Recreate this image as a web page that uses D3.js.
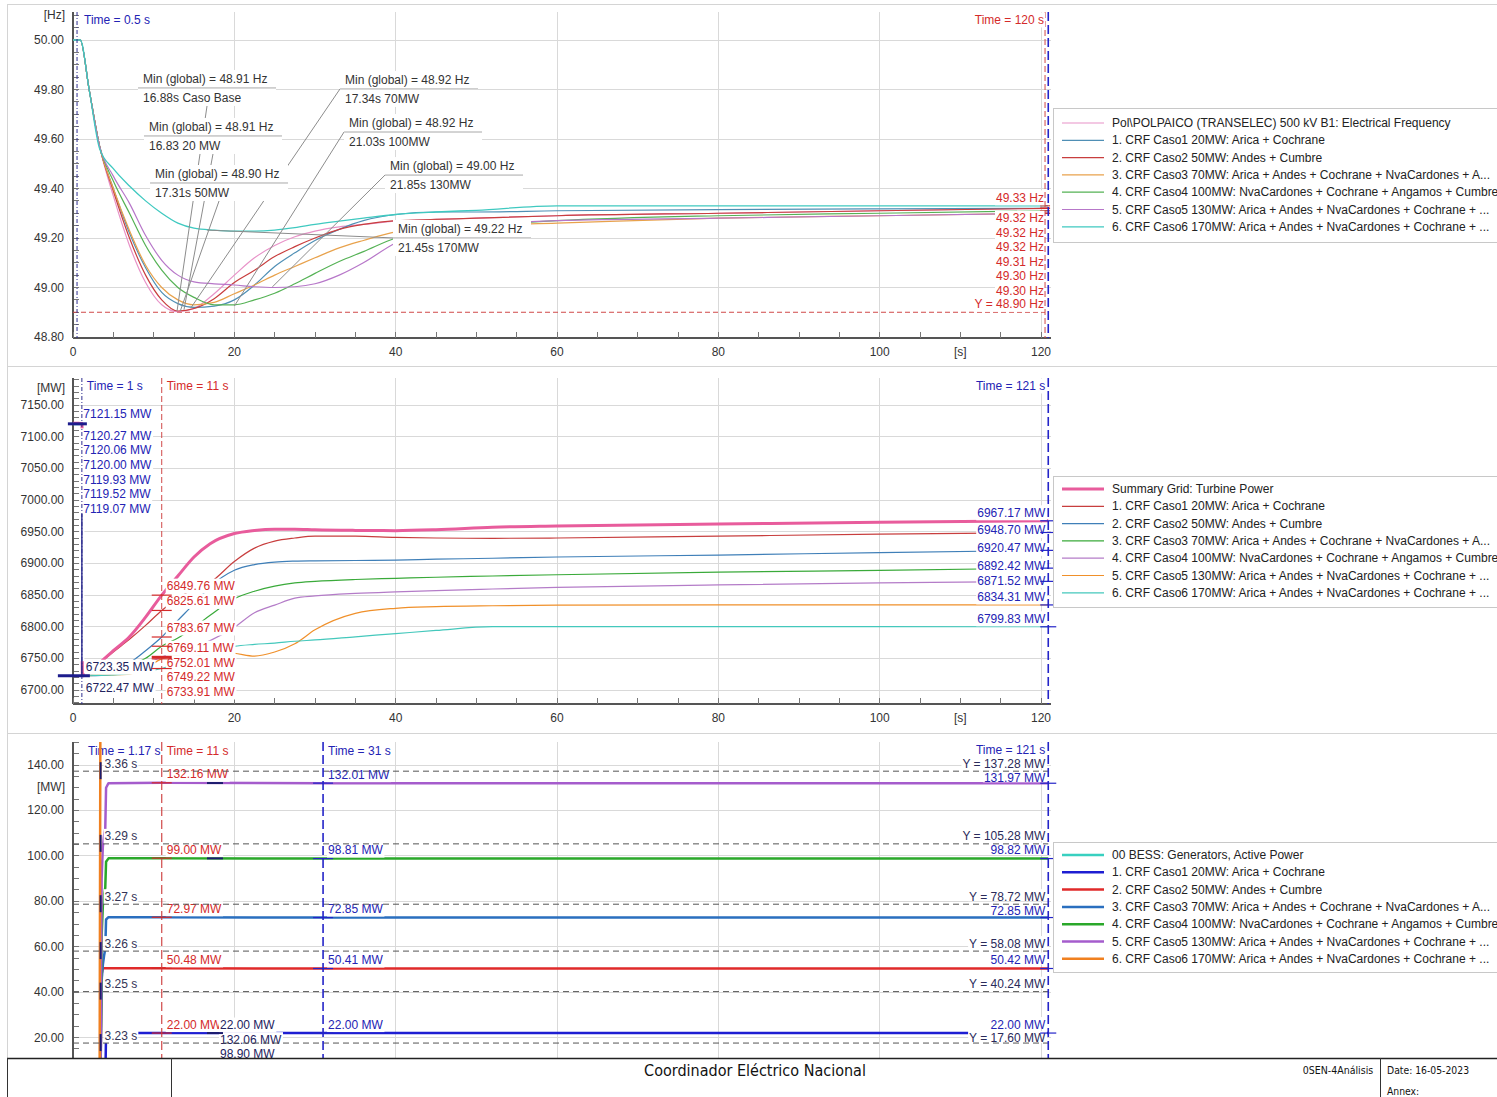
<!DOCTYPE html>
<html>
<head>
<meta charset="utf-8">
<script src="https://cdn.jsdelivr.net/npm/d3@7/dist/d3.min.js"></script>
<style>
html,body{margin:0;padding:0;background:#fff;}
svg{display:block;}
</style>
</head>
<body>
<svg id="chart" width="1497" height="1097"></svg>
<script>
// ================= DATA =================
// Panel 1 : electrical frequency [Hz]
const freqTime   = [0,0.9,2,3.3,5,7,9,11,13,15,17.5,20,22.5,25,27.5,30,33,36,40,45,50,60,80,100,120.9];
const freqPol    = [50,50,49.80,49.57,49.37,49.17,49.02,48.93,48.902,48.915,48.975,49.05,49.12,49.17,49.205,49.228,49.245,49.255,49.268,49.275,49.28,49.29,49.30,49.31,49.32];
const freqCaso1  = [50,50,49.80,49.57,49.40,49.22,49.08,48.98,48.935,48.92,48.925,48.95,49.01,49.085,49.14,49.19,49.235,49.27,49.295,49.305,49.305,49.31,49.315,49.318,49.32];
const freqCaso2  = [50,50,49.80,49.57,49.39,49.20,49.05,48.95,48.905,48.915,48.955,49.02,49.07,49.125,49.165,49.20,49.235,49.255,49.27,49.275,49.28,49.29,49.30,49.31,49.32];
const freqCaso3  = [50,50,49.80,49.57,49.40,49.23,49.09,49.00,48.95,48.93,48.94,48.975,49.01,49.05,49.085,49.12,49.16,49.19,49.225,49.24,49.25,49.26,49.28,49.29,49.30];
const freqCaso4  = [50,50,49.80,49.57,49.43,49.30,49.17,49.07,49.00,48.96,48.93,48.93,48.95,48.977,49.015,49.057,49.105,49.145,49.20,49.235,49.25,49.27,49.29,49.30,49.31];
const freqCaso5  = [50,50,49.80,49.57,49.45,49.34,49.21,49.11,49.05,49.023,49.015,49.01,49.003,49.00,49.003,49.015,49.05,49.10,49.18,49.23,49.25,49.27,49.28,49.29,49.30];
const freqCaso6  = [50,50,49.80,49.56,49.48,49.41,49.35,49.30,49.26,49.24,49.232,49.228,49.228,49.232,49.242,49.255,49.268,49.28,49.295,49.305,49.312,49.33,49.33,49.33,49.33];
const freqEndLabels = [49.33,49.32,49.32,49.32,49.31,49.30,49.30];
const freqYCursor = 48.90;
const freqTicks = [48.80,49.00,49.20,49.40,49.60,49.80,50.00];
const minText1 = ["Min (global) = 48.91 Hz","Min (global) = 48.91 Hz","Min (global) = 48.90 Hz","Min (global) = 48.92 Hz","Min (global) = 48.92 Hz","Min (global) = 49.00 Hz","Min (global) = 49.22 Hz"];
const minText2 = ["16.88s Caso Base","16.83 20 MW","17.31s 50MW","17.34s 70MW","21.03s 100MW","21.85s 130MW","21.45s 170MW"];
const minPointT = [12.9,13.76,13.3,14.6,20.0,24.7,16.6];
const minPointF = [48.905,48.91,48.905,48.917,48.925,49.002,49.232];

// Panel 2 : Summary grid turbine power [MW]
const powTime     = [0,1.12,1.15,2,3.5,5,7,9,11,13,15,17,20,22.5,25,27.5,30,35,40,45,52,60,80,100,120.9];
const powSummary  = [7121.15,7121.15,6722.5,6727,6745,6762,6784,6815,6849.76,6880,6910,6931,6947,6952,6954,6954,6953,6952,6951.6,6953,6957,6959,6962,6965,6967.17];
const powCaso1    = [7120.27,7120.27,6722.5,6726,6744,6760,6780,6802,6825.61,6845,6860,6870,6903,6924,6935,6940,6943,6943,6941,6940,6939.5,6940,6943,6946,6948.70];
const powCaso2    = [7120.06,7120.06,6723.35,6724,6727,6733,6743,6762,6783.67,6810,6836,6863,6889,6898,6902,6903.5,6904,6904.5,6905,6906.5,6908,6910,6913,6917,6920.47];
const powCaso3    = [7120.00,7120.00,6722.5,6723,6725,6730,6738,6750,6769.11,6782,6799,6818,6844,6856,6864,6869,6871.5,6874.5,6876.3,6878,6880,6882,6886,6889,6892.42];
const powCaso4    = [7119.93,7119.93,6722.5,6722.5,6723,6725,6733,6742,6752.01,6760,6768,6778,6799,6822,6834,6845,6848.5,6852.5,6855,6857,6859.5,6862,6866,6869,6871.52];
const powCaso5    = [7119.52,7119.52,6722.5,6722.8,6723.5,6724,6725,6735,6749.22,6755,6758,6760,6758,6753.6,6760,6773,6795,6821,6829,6831.5,6833,6834,6834.3,6834.3,6834.31];
const powCaso6    = [7119.07,7119.07,6722.47,6722.5,6723,6724,6726,6729,6733.91,6742,6752,6760,6769,6772,6774,6777,6779,6784,6789,6794,6800,6800,6800,6800,6799.83];
const powAtT1Top  = [7121.15,7120.27,7120.06,7120.00,7119.93,7119.52,7119.07];
const powAtT1Bot  = [6723.35,6722.47];
const powAtT11    = [6849.76,6825.61,6783.67,6769.11,6752.01,6749.22,6733.91];
const powAtEnd    = [6967.17,6948.70,6920.47,6892.42,6871.52,6834.31,6799.83];
const powTicks    = [6700,6750,6800,6850,6900,6950,7000,7050,7100,7150];

// Panel 3 : BESS active power [MW]
const bessTime   = [0,3.3,3.4,3.55,3.7,3.85,4.0,4.1,4.4,11,31,120.9];
const bessBase   = [0,0,0,0,0,0,0,0,0,0,0,0];
const bessCaso1  = [0,0,0,0,0,0,0,22,22,22.00,22.00,22.00];
const bessCaso2  = [0,0,0,48,50.5,50.5,50.5,50.5,50.5,50.48,50.41,50.42];
const bessCaso3  = [0,0,0,45,52,56,59,72,73,72.97,72.85,72.85];
const bessCaso4  = [0,0,0,65,78,83,86,97.4,98.9,99.00,98.81,98.82];
const bessCaso5  = [0,0,0,90,104,109,112,130,132,132.16,132.01,131.97];
const bessCaso6  = [0,0,170,170,170,170,170,170,170,170,170,170];
const bessAtT11  = [132.16,99.00,72.97,50.48,22.00];
const bessAtT31  = [132.01,98.81,72.85,50.41,22.00];
const bessAtEnd  = [131.97,98.82,72.85,50.42,22.00];
const bessAtT17  = [22.00,132.06,98.90];
const bessYCursors = [137.28,105.28,78.72,58.08,40.24,17.60];
const bessCrossTimes = [3.36,3.29,3.27,3.26,3.25,3.23];
const bessTicks  = [20,40,60,80,100,120,140];

const timeTicks = [0,20,40,60,80,100,120];

const caseNames = ["1. CRF Caso1 20MW: Arica + Cochrane","2. CRF Caso2 50MW: Andes + Cumbre","3. CRF Caso3 70MW: Arica + Andes + Cochrane + NvaCardones + A...","4. CRF Caso4 100MW: NvaCardones + Cochrane + Angamos + Cumbre","5. CRF Caso5 130MW: Arica + Andes + NvaCardones + Cochrane + ...","6. CRF Caso6 170MW: Arica + Andes + NvaCardones + Cochrane + ..."];
const freqLegend = ["Pol\\POLPAICO (TRANSELEC) 500 kV B1: Electrical Frequency"].concat(caseNames);
const powLegend  = ["Summary Grid: Turbine Power"].concat(caseNames);
const bessLegend = ["00 BESS: Generators, Active Power"].concat(caseNames);

// ================= STYLE =================
const freqColors = ["#e892c8","#4f8fb5","#c83e3e","#e8a24c","#55b255","#b777c9","#3fc9c0"];
const powColors  = ["#e85c9c","#c83e3e","#3f7fb8","#3aaa3a","#b47cc8","#f0902a","#44c8bc"];
const bessColors = ["#38d0c0","#1e1ed2","#e02a2a","#2a6fbf","#2aa82a","#a55ccc","#f08020"];
const RED = "#d42a2a", BLUE = "#2323b4", NAVY = "#22225e", DARK = "#333";
const F = '"Liberation Sans", Arial, Helvetica, sans-serif';

// ================= DRAW =================
const svg = d3.select("#chart");
const x = d3.scaleLinear().domain([0,120]).range([73,1041]);
const XL = x(0), XR = x(121.3);

function txt(g, px, py, s, o = {}) {
  const t = g.append("text").attr("x", px).attr("y", py).text(s)
    .attr("font-family", o.family || F).attr("font-size", o.size || 12)
    .attr("fill", o.color || DARK).attr("text-anchor", o.anchor || "start")
    .attr("dominant-baseline", "central");
  if (o.bg) {
    const b = t.node().getBBox();
    const padL = o.padL == null ? 1 : o.padL;
    const trim = o.trim || 0;
    g.insert("rect", () => t.node()).attr("x", b.x - padL).attr("y", b.y - 0.5)
      .attr("width", b.width + 1 + padL).attr("height", b.height + 1 - trim).attr("fill", "#fff");
  }
  return t;
}
function stack(vals, y, first, gap, push) {
  let prev = -1e9;
  return vals.map(v => { const yl = y(v); let d = yl + first; if (d < prev + gap) d = Math.max(prev + gap, yl + push); prev = d; return d; });
}
function hline(g, x1, x2, yy, color, w, dash) {
  const l = g.append("line").attr("x1", x1).attr("x2", x2).attr("y1", yy).attr("y2", yy).attr("stroke", color).attr("stroke-width", w || 1);
  if (dash) l.attr("stroke-dasharray", dash);
  return l;
}
function vline(g, xx, y1, y2, color, w, dash) {
  const l = g.append("line").attr("x1", xx).attr("x2", xx).attr("y1", y1).attr("y2", y2).attr("stroke", color).attr("stroke-width", w || 1);
  if (dash) l.attr("stroke-dasharray", dash);
  return l;
}

// outer frame
const frameG = svg.append("g");
frameG.append("rect").attr("x", 7.5).attr("y", 4.5).attr("width", 1500).attr("height", 1100).attr("fill", "none").attr("stroke", "#d4d4d4");
hline(frameG, 7, 1497, 366.5, "#d4d4d4");
hline(frameG, 7, 1497, 733.5, "#d4d4d4");

const defs = svg.append("defs");
const panels = {
  freq: { y: d3.scaleLinear().domain([48.8, 50]).range([337, 40]), top: 12, bottom: 338, minor: d3.range(0, 27).map(i => 48.8 + i * 0.05), ticks: freqTicks, unit: "[Hz]", unitAt: 15, xAxis: true, id: "c1" },
  pow:  { y: d3.scaleLinear().domain([6700, 7150]).range([690, 405]), top: 378, bottom: 704, minor: d3.range(0, 52).map(i => 6680 + i * 10), ticks: powTicks, unit: "[MW]", unitAt: 388, xAxis: true, id: "c2" },
  bess: { y: d3.scaleLinear().domain([20, 140]).range([1037.6, 765]), top: 742, bottom: 1058, minor: d3.range(0, 30).map(i => 5 + i * 5), ticks: bessTicks, unit: "[MW]", unitAt: null, xAxis: false, id: "c3" }
};
panels.bess.unitAt = panels.bess.y(130.2);

Object.values(panels).forEach(p => {
  defs.append("clipPath").attr("id", p.id).append("rect").attr("x", XL).attr("y", p.top).attr("width", XR - XL).attr("height", p.bottom - p.top);
  const g = svg.append("g").attr("shape-rendering", "crispEdges");
  p.ticks.forEach(v => hline(g, XL, XR, p.y(v), "#d9d9d9"));
  timeTicks.filter(t => t > 0).forEach(t => vline(g, x(t), p.top, p.bottom, "#d9d9d9"));
  p.minor.forEach(v => { const yy = p.y(v); if (yy >= p.top && yy <= p.bottom) hline(g, XL, XL + 6, yy, "#777"); });
  vline(g, XL, p.top, p.bottom, "#555", 1.3);
  const tg = svg.append("g");
  p.ticks.forEach(v => txt(tg, 64, p.y(v), v.toFixed(2), { anchor: "end" }));
  txt(tg, 65, p.unitAt, p.unit, { anchor: "end" });
  if (p.xAxis) {
    hline(g, XL, XR, p.bottom, "#555", 1.3);
    d3.range(0, 25).map(i => i * 5).forEach(t => vline(g, x(t), p.bottom - 6, p.bottom, "#777"));
    timeTicks.forEach(t => txt(tg, x(t), p.bottom + 14, String(t), { anchor: "middle" }));
    txt(tg, x(110), p.bottom + 14, "[s]", { anchor: "middle" });
  }
});

function drawCurves(p, times, series, colors, widths, curve) {
  const g = svg.append("g").attr("clip-path", `url(#${p.id})`);
  const line = d3.line().x(d => x(d[0])).y(d => p.y(d[1])).curve(curve);
  series.forEach((s, i) => g.append("path").attr("d", line(times.map((t, j) => [t, s[j]])))
    .attr("fill", "none").attr("stroke", colors[i]).attr("stroke-width", widths[i]).attr("stroke-linejoin", "round"));
}
function legend(y0, h, first, names, colors, widths) {
  const g = svg.append("g");
  g.append("rect").attr("x", 1053.5).attr("y", y0 + 0.5).attr("width", 450).attr("height", h).attr("fill", "#fff").attr("stroke", "#c8c8c8");
  names.forEach((n, i) => {
    const yy = y0 + first + i * 17.3;
    hline(g, 1062, 1104, yy, colors[i], widths[i]);
    txt(g, 1112, yy, n, { color: "#222" });
  });
}

// ---------- Panel 1 ----------
{
  const p = panels.freq, y = p.y;
  const g = svg.append("g");
  hline(g, XL, x(120.5), y(freqYCursor), "#d04848", 1, "5,3");
  drawCurves(p, freqTime, [freqPol, freqCaso1, freqCaso2, freqCaso3, freqCaso4, freqCaso5, freqCaso6], freqColors, [1.2,1.2,1.2,1.2,1.2,1.2,1.3], d3.curveMonotoneX);
  // min annotations (box layout in data units: left time / top frequency, leader anchor)
  const boxAt = [[8.06,49.879,"b"],[8.80,49.685,"b"],[9.55,49.495,"b"],[33.1,49.875,"l"],[33.6,49.701,"l"],[38.68,49.527,"l"],[39.67,49.273,"l"]];
  const ag = svg.append("g");
  boxAt.forEach((b, i) => {
    const bx = x(b[0]), by = y(b[1]);
    const sx = b[2] === "b" ? bx + 69 : bx, sy = b[2] === "b" ? by + 36 : by + 18;
    ag.append("line").attr("x1", sx).attr("y1", sy).attr("x2", x(minPointT[i])).attr("y2", y(minPointF[i])).attr("stroke", "#8c8c8c").attr("stroke-width", 1);
  });
  boxAt.forEach((b, i) => {
    const bx = x(b[0]), by = y(b[1]);
    ag.append("rect").attr("x", bx).attr("y", by).attr("width", 138).attr("height", 36).attr("fill", "#fff");
    hline(ag, bx, bx + 138, by + 18, "#a8a8a8");
    txt(ag, bx + 5, by + 9, minText1[i]);
    txt(ag, bx + 5, by + 28, minText2[i]);
  });
  // cursors
  const cg = svg.append("g");
  freqEndLabels.forEach(v => hline(cg, x(120.5) - 5, x(120.5) + 5, y(v), RED, 1));
  const ly = stack(freqEndLabels, y, -8, 14.5, 10);
  freqEndLabels.forEach((v, i) => txt(cg, x(120.5) - 1, ly[i], v.toFixed(2) + " Hz", { color: RED, anchor: "end", bg: true }));
  txt(cg, x(120.5) - 1, y(freqYCursor) - 8, "Y = " + freqYCursor.toFixed(2) + " Hz", { color: RED, anchor: "end", bg: true });
  vline(cg, x(0.5), p.top, p.bottom, "#303090", 1, "4,2,1,2");
  vline(cg, x(120.5), p.top, p.bottom, "#d04848", 1, "6,3");
  vline(cg, x(120.9), p.top, p.bottom, "#2424c8", 1.6, "9,4");
  txt(cg, x(0.5) + 7, p.top + 8, "Time = 0.5 s", { color: BLUE, bg: true });
  txt(cg, x(120.5) - 1, p.top + 8, "Time = 120 s", { color: RED, anchor: "end", bg: true });
  legend(108, 134, 15, freqLegend, freqColors, [1.2,1.2,1.2,1.2,1.2,1.2,1.2]);
}

// ---------- Panel 2 ----------
{
  const p = panels.pow, y = p.y;
  drawCurves(p, powTime, [powCaso1, powCaso2, powCaso3, powCaso4, powCaso5, powCaso6, powSummary],
    [powColors[1], powColors[2], powColors[3], powColors[4], powColors[5], powColors[6], powColors[0]], [1.2,1.2,1.2,1.2,1.2,1.2,3], d3.curveMonotoneX);
  const g = svg.append("g");
  const xc = x(1.1);
  let ly = stack(powAtT1Top, y, -9, 14.6, 12);
  powAtT1Top.forEach((v, i) => txt(g, xc + 1.5, ly[i], v.toFixed(2) + " MW", { color: BLUE, bg: true, padL: 4 }));
  const lyB = stack(powAtT1Bot, y, -8, 14.6, 12);
  g.append("rect").attr("x", xc - 2.5).attr("y", ly[ly.length - 1] + 6).attr("width", 5).attr("height", lyB[0] - ly[ly.length - 1] - 12).attr("fill", "#fff");
  vline(g, xc, ly[ly.length - 1] + 5, y(powAtT1Bot[1]), "#26268a", 1.4);
  powAtT1Bot.forEach((v, i) => txt(g, xc + 4, lyB[i], v.toFixed(2) + " MW", { color: NAVY, bg: true }));
  ly = stack(powAtT11, y, -9, 14.6, 2);
  powAtT11.forEach((v, i) => txt(g, x(11) + 5, ly[i], v.toFixed(2) + " MW", { color: RED, bg: true }));
  ly = stack(powAtEnd, y, -8, 14.6, -2);
  powAtEnd.forEach((v, i) => txt(g, x(120.9) - 3, ly[i], v.toFixed(2) + " MW", { color: BLUE, anchor: "end", bg: true }));
  vline(g, xc, p.top, p.bottom, "#303090", 1, "4,2,1,2");
  vline(g, x(11), p.top, p.bottom, "#d04848", 1, "6,3");
  vline(g, x(120.9), p.top, p.bottom, "#2424c8", 1.6, "9,4");
  hline(g, xc - 14, xc + 5, y(powAtT1Top[1]), "#1c1c8c", 3);
  hline(g, xc - 24, xc + 8, y(powAtT1Bot[1]), "#1c1c8c", 3);
  powAtT11.forEach((v, i) => hline(g, x(11) - 10, x(11) + 10, y(v), RED, i === 4 ? 2.5 : 1.2));
  powAtEnd.forEach(v => hline(g, x(120.9) - 8, x(120.9) + 8, y(v), "#2424c8", 1.2));
  txt(g, xc + 5, p.top + 8, "Time = 1 s", { color: BLUE, bg: true });
  txt(g, x(11) + 5, p.top + 8, "Time = 11 s", { color: RED, bg: true });
  txt(g, x(120.9) - 3, p.top + 8, "Time = 121 s", { color: BLUE, anchor: "end", bg: true });
  legend(476, 131, 13, powLegend, powColors, [3,1.2,1.2,1.2,1.2,1.2,1.2]);
}

// ---------- Panel 3 ----------
{
  const p = panels.bess, y = p.y;
  const g0 = svg.append("g");
  txt(g0, 88, p.top + 9, "Time = 1.17 s", { color: BLUE });
  drawCurves(p, bessTime, [bessBase, bessCaso1, bessCaso2, bessCaso3, bessCaso4, bessCaso5, bessCaso6], bessColors, [2.5,2.5,2.5,2.5,2.5,2.5,2.5], d3.curveLinear);
  const g = svg.append("g");
  bessAtT11.forEach(v => txt(g, x(11) + 5, y(v) - 8.5, v.toFixed(2) + " MW", { color: RED, bg: true }));
  bessAtT31.forEach(v => txt(g, x(31) + 5, y(v) - 8.5, v.toFixed(2) + " MW", { color: BLUE, bg: true }));
  bessAtT17.forEach((v, i) => txt(g, x(17.6) + 5, y(bessAtT17[0]) - 8 + i * 14.6, v.toFixed(2) + " MW", { color: NAVY, bg: true }));
  // right-hand labels: cursor values and Y-cursor values, pushed downward so they do not collide
  const timeLabelY = p.top + 8;
  const rightItems = bessAtEnd.map(v => ({ y: y(v) - 8.5, s: v.toFixed(2) + " MW", c: BLUE }))
    .concat(bessYCursors.map(v => ({ y: y(v) - 7.5, s: "Y = " + v.toFixed(2) + " MW", c: "#2a2a5a" })))
    .sort((a, b) => a.y - b.y);
  let prevY = timeLabelY;
  rightItems.forEach(it => { if (it.y < prevY + 13.9) it.y = prevY + 13.9; prevY = it.y; });
  rightItems.forEach(it => txt(g, x(120.9) - 3, it.y, it.s, { color: it.c, anchor: "end", bg: true, trim: 3 }));
  bessYCursors.forEach((v, i) => txt(g, x(3.3) + 5, y(v) - 7.5, bessCrossTimes[i].toFixed(2) + " s", { color: "#333355", bg: true }));
  bessYCursors.forEach(v => {
    hline(g, XL, x(120.9), y(v), "#555", 1, "6,4");
    vline(g, x(3.3) + 1, y(v) - 9, y(v) + 8, "#1c1c6e", 2);
  });
  vline(g, x(11), p.top, p.bottom, "#d04848", 1.2, "9,4");
  vline(g, x(31), p.top, p.bottom, "#2424c8", 1.6, "9,4");
  vline(g, x(120.9), p.top, p.bottom, "#2424c8", 1.6, "9,4");
  bessAtT11.forEach(v => hline(g, x(11) - 10, x(11) + 10, y(v), RED, 1.2));
  bessAtT31.forEach(v => hline(g, x(31) - 10, x(31) + 10, y(v), "#2424c8", 1.2));
  bessAtEnd.forEach(v => hline(g, x(120.9) - 8, x(120.9) + 8, y(v), "#2424c8", 1.2));
  bessAtT17.forEach(v => hline(g, x(17.6) - 8, x(17.6) + 8, y(v), "#1c1c6e", 2));
  txt(g, x(11) + 5, p.top + 9, "Time = 11 s", { color: RED, bg: true });
  txt(g, x(31) + 5, p.top + 9, "Time = 31 s", { color: BLUE, bg: true });
  txt(g, x(120.9) - 3, timeLabelY, "Time = 121 s", { color: BLUE, anchor: "end", bg: true });
  legend(842, 130, 13, bessLegend, bessColors, [2.5,2.5,2.5,2.5,2.5,2.5,2.5]);
}

// ---------- Footer ----------
{
  const g = svg.append("g");
  g.append("rect").attr("x", 0).attr("y", 1058).attr("width", 1497).attr("height", 39).attr("fill", "#fff");
  hline(g, 7, 1497, 1058.5, "#222", 1.6);
  [7.5, 171.5, 1380.5].forEach(xx => vline(g, xx, 1058, 1097, "#333", 1));
  const cf = '"DejaVu Sans Condensed","DejaVu Sans",sans-serif';
  txt(g, 755, 1070, "Coordinador Eléctrico Nacional", { family: cf, size: 16, anchor: "middle", color: "#111" }).attr("font-stretch", "condensed");
  txt(g, 1338, 1070, "0SEN-4Análisis", { family: cf, size: 10.5, anchor: "middle", color: "#111" }).attr("font-stretch", "condensed");
  txt(g, 1387, 1070, "Date: 16-05-2023", { family: cf, size: 10.3, color: "#111" }).attr("font-stretch", "condensed");
  txt(g, 1387, 1091, "Annex:", { family: cf, size: 10.3, color: "#111" }).attr("font-stretch", "condensed");
}
</script>
</body>
</html>
